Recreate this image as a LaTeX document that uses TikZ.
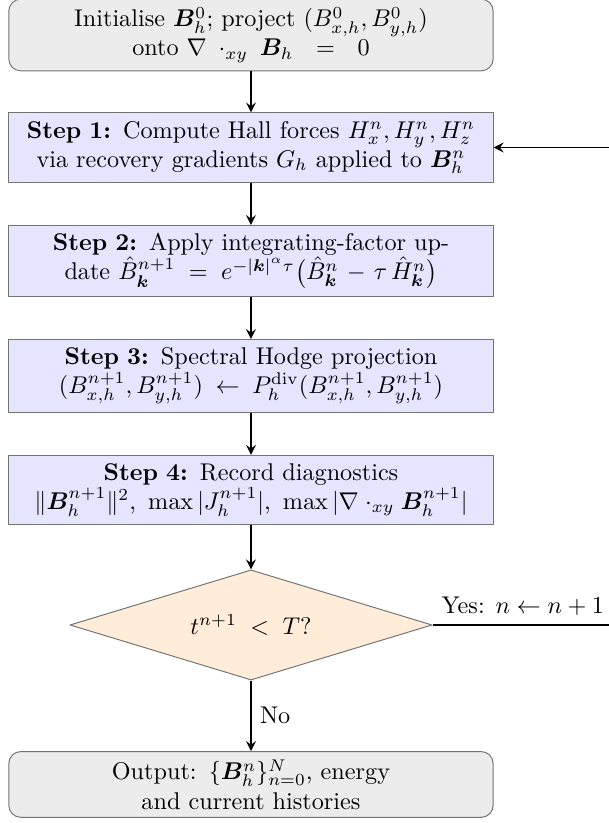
\documentclass[tikz,border=0pt]{standalone}
\usepackage{amsmath,bm}
\usetikzlibrary{shapes.geometric}
\begin{document}
\begin{tikzpicture}[>=stealth, line join=round,
		stepbox/.style={rectangle, draw=black!55, fill=blue!10, text width=6.8cm, align=center},
		termbox/.style={rectangle, rounded corners=5pt, draw=black!55, fill=gray!15, text width=6.8cm, align=center},
		testbox/.style={diamond, draw=black!55, fill=orange!15, aspect=3.3, minimum width=5.26cm, minimum height=1.6cm, inner sep=1pt},
		flow/.style={->, thick}]
	\def\xl{-3.645} \def\xr{5.185} % page edges
	\def\yt{0.508} \def\yb{-11.444}
	\useasboundingbox (\xl,\yb) rectangle (\xr,\yt);
	% boxes of the time loop
	\node[termbox] (init) at (0,0) {Initialise $\bm{B}_h^0$; project $(B_{x,h}^0, B_{y,h}^0)$\\ onto $\nabla\cdot_{xy}\bm{B}_h=0$};
	\node[stepbox] (s1) at (0,-1.634) {\textbf{Step 1:} Compute Hall forces $H_x^n, H_y^n, H_z^n$ via recovery gradients $G_h$ applied to $\bm{B}_h^n$};
	\node[stepbox] (s2) at (0,-3.282) {\textbf{Step 2:} Apply integrating-factor update $\hat{B}_{\bm{k}}^{n+1}=e^{-|\bm{k}|^{\alpha}\tau}\big(\hat{B}_{\bm{k}}^n-\tau\,\hat{H}_{\bm{k}}^n\big)$};
	\node[stepbox] (s3) at (0,-4.951) {\textbf{Step 3:} Spectral Hodge projection\\ $(B_{x,h}^{n+1},B_{y,h}^{n+1})\leftarrow P_h^{\mathrm{div}}(B_{x,h}^{n+1},B_{y,h}^{n+1})$};
	\node[stepbox] (s4) at (0,-6.608) {\textbf{Step 4:} Record diagnostics\\ $\|\bm{B}_h^{n+1}\|^2,\ \max|J_h^{n+1}|,\ \max|\nabla\cdot_{xy}\bm{B}_h^{n+1}|$};
	\node[testbox] (test) at (0,-8.568) {$t^{n+1}\;<\;T$?};
	\node[termbox] (out) at (0,-10.884) {Output: $\{\bm{B}_h^n\}_{n=0}^N$, energy\\ and current histories};
	\coordinate (loop) at (5.6,-8.568);
	% arrows
	\draw[flow] (init) -- (s1);
	\draw[flow] (s1) -- (s2);
	\draw[flow] (s2) -- (s3);
	\draw[flow] (s3) -- (s4);
	\draw[flow] (s4) -- (test);
	\draw[flow] (test) -- node[right]{No} (out);
	\draw[flow] (test.east) -- node[above right, pos=0]{Yes: $n\leftarrow n+1$} (loop) |- (s1.east);
\end{tikzpicture}
\end{document}
